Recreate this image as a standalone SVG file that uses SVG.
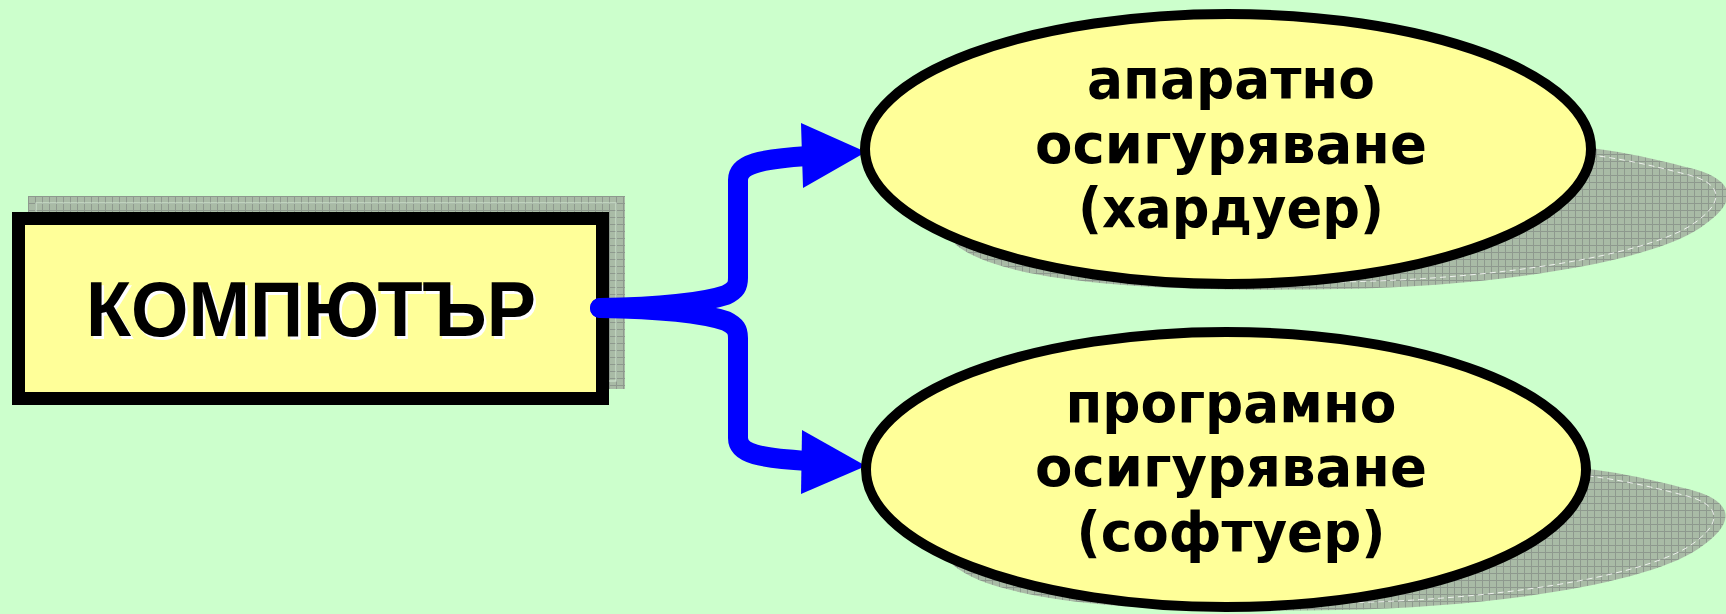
<svg xmlns="http://www.w3.org/2000/svg" width="1726" height="614" viewBox="0 0 1726 614">
  <style>
    .shape { fill: #FFFF99; stroke: #000000; }
    .shadow { fill: url(#grid); stroke: none; }
    .shadowline { fill: none; stroke: #E8FFE8; stroke-opacity: 0.6; stroke-width: 1.2; }
    .link { fill: none; stroke: #0000FF; stroke-width: 20; stroke-linecap: round; stroke-linejoin: round; }
    .head { fill: #0000FF; stroke: none; }
    .title { font-family: "Liberation Sans", Arial, sans-serif; font-weight: bold; font-size: 78px; text-anchor: middle; }
    .label { font-family: "DejaVu Sans", Verdana, sans-serif; font-weight: bold; font-size: 56px; text-anchor: middle; fill: #000000; }
  </style>
  <defs>
    <pattern id="grid" width="7" height="7" patternUnits="userSpaceOnUse">
      <rect width="7" height="7" fill="#A9BBA6"/>
      <path d="M0,0.5H7M0.5,0V7" stroke="#8E998E" stroke-width="1"/>
    </pattern>
    <path id="ellShadow" d="M955,244 C995,278 1120,293 1340,289 C1500,286 1650,262 1700,228 C1745,198 1730,178 1690,168 C1650,158 1620,150 1560,145 L1300,140 L1000,200 Z"/>
    <path id="ellShadowLine" d="M1340,282 C1500,279 1640,256 1690,226 C1730,200 1720,182 1685,174 C1650,165 1620,158 1575,153"/>
  </defs>

  <rect x="0" y="0" width="1726" height="614" fill="#CCFFCC"/>

  <g id="node-computer">
    <rect class="shadow" x="28" y="196" width="597" height="193"/>
    <rect class="shadowline" x="36" y="203" width="580" height="178"/>
    <rect class="shape" x="18.5" y="218.5" width="584" height="180" stroke-width="13"/>
    <text class="title" x="313.5" y="338.5" fill="#FFFFFF" textLength="450" lengthAdjust="spacingAndGlyphs">КОМПЮТЪР</text>
    <text class="title" x="311" y="336" fill="#000000" textLength="450" lengthAdjust="spacingAndGlyphs">КОМПЮТЪР</text>
  </g>

  <g id="connectors">
    <path class="link" d="M600,308 C660,307 705,302 726,295 C736,290 738,286 738,278 L738,180 C738,164 760,159 808,156"/>
    <path class="link" d="M600,308 C660,309 705,314 726,321 C736,326 738,330 738,338 L738,438 C738,454 760,458 808,461"/>
    <polygon class="head" points="801,123 866,152 803,188"/>
    <polygon class="head" points="802,430 866,466 801,494"/>
  </g>

  <g id="node-hardware">
    <use href="#ellShadow" class="shadow"/>
    <use href="#ellShadowLine" fill="none" stroke="#FFFFFF" stroke-opacity="0.8" stroke-width="1" stroke-dasharray="6 4"/>
    <ellipse class="shape" cx="1228" cy="149" rx="363" ry="135" stroke-width="10"/>
    <text class="label" x="1231" y="98" textLength="288" lengthAdjust="spacingAndGlyphs">апаратно</text>
    <text class="label" x="1231" y="163" textLength="392" lengthAdjust="spacingAndGlyphs">осигуряване</text>
    <text class="label" x="1231" y="227" textLength="306" lengthAdjust="spacingAndGlyphs">(хардуер)</text>
  </g>

  <g id="node-software">
    <g transform="translate(-2,321)">
      <use href="#ellShadow" class="shadow"/>
      <use href="#ellShadowLine" fill="none" stroke="#FFFFFF" stroke-opacity="0.8" stroke-width="1" stroke-dasharray="6 4"/>
    </g>
    <ellipse class="shape" cx="1226" cy="469.5" rx="360" ry="137.5" stroke-width="10"/>
    <text class="label" x="1231" y="422" textLength="331" lengthAdjust="spacingAndGlyphs">програмно</text>
    <text class="label" x="1231" y="486" textLength="392" lengthAdjust="spacingAndGlyphs">осигуряване</text>
    <text class="label" x="1231" y="551" textLength="309" lengthAdjust="spacingAndGlyphs">(софтуер)</text>
  </g>
</svg>
